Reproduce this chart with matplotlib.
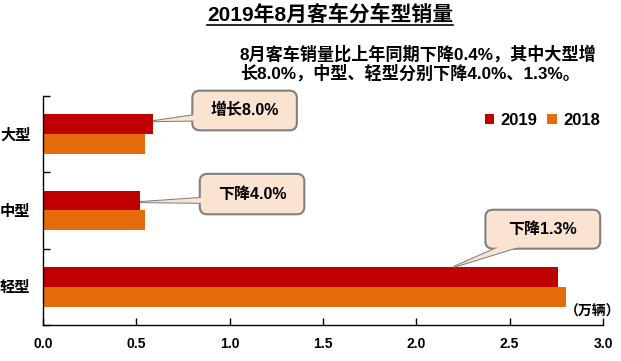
import matplotlib
matplotlib.use("Agg")
import matplotlib.pyplot as plt
from matplotlib.patches import FancyBboxPatch, Polygon
from matplotlib.lines import Line2D

plt.rcParams['font.family'] = ['Liberation Sans', 'Noto Sans CJK SC', 'DejaVu Sans']
plt.rcParams['font.weight'] = 'bold'

# Datos (万辆)
categories = ['大型', '中型', '轻型']
sales_2019 = [0.59, 0.52, 2.76]
sales_2018 = [0.545, 0.545, 2.80]
series_names = ['2019', '2018']
callout_texts = ['增长8.0%', '下降4.0%', '下降1.3%']
x_ticks = [0.0, 0.5, 1.0, 1.5, 2.0, 2.5, 3.0]

RED = '#C00000'
ORANGE = '#E46C0A'
BOX_FC = '#FBE3D2'
BOX_EC = '#808080'

fig = plt.figure(figsize=(6.21, 3.61), dpi=100)
ax = fig.add_axes([43 / 621, 36 / 361, 560 / 621, 229 / 361])

pos = list(range(len(categories)))
h = 0.26
b19 = ax.barh([p - h / 2 for p in pos], sales_2019, height=h, color=RED, label=series_names[0], zorder=2)
b18 = ax.barh([p + h / 2 for p in pos], sales_2018, height=h, color=ORANGE, label=series_names[1], zorder=2)

ax.set_xlim(0, 3.0)
ax.set_ylim(2.5, -0.5)
ax.set_xticks(x_ticks)
ax.set_xticklabels([f'{t:.1f}' for t in x_ticks], fontsize=10, fontweight='bold')
ax.set_yticks(pos)
ax.set_yticklabels(categories, fontsize=11, fontweight='bold')
ax.set_yticks([-0.5, 0.5, 1.5, 2.5], minor=True)
ax.tick_params(axis='y', which='major', length=0, pad=9)
ax.tick_params(axis='y', which='minor', length=5, direction='in', width=1)
ax.tick_params(axis='x', which='major', length=5, direction='in', width=1, pad=9)
for s in ['top', 'right']:
    ax.spines[s].set_visible(False)
for s in ['left', 'bottom']:
    ax.spines[s].set_linewidth(1.0)

# Leyenda
ax.legend(handles=[b19, b18], loc='center right', bbox_to_anchor=(0.995, 0.892),
          ncol=2, frameon=False, prop={'size': 12, 'weight': 'bold'},
          handlelength=0.55, handleheight=0.55,
          handletextpad=0.4, columnspacing=0.6, borderaxespad=0, borderpad=0)

# Globos de texto (cajas y punteros)
aspect = (3.0 / 229) / (3.0 / 560)
boxes = [(0.80, -0.57, 1.36, -0.05), (0.84, 0.52, 1.40, 1.05), (2.37, 0.99, 2.985, 1.50)]
tips = [(sales_2019[0], -h / 2 - 0.04), (sales_2019[1], 1 - h / 2 + 0.02), (2.2, 2 - h)]
bases = [[(0.84, -0.26), (0.84, -0.18)],
         [(0.88, 0.83), (0.88, 0.90)],
         [(2.46, 1.46), (2.57, 1.46)]]
for (x0, y0, x1, y1), tip, base, txt in zip(boxes, tips, bases, callout_texts):
    wedge = Polygon([tip] + base, closed=True, fc=BOX_FC, ec=BOX_EC, lw=1.5,
                    zorder=4, clip_on=False)
    ax.add_patch(wedge)
    box = FancyBboxPatch((x0, y0), x1 - x0, y1 - y0,
                         boxstyle='round,pad=0,rounding_size=0.04',
                         mutation_aspect=aspect, fc=BOX_FC, ec=BOX_EC, lw=1.5,
                         zorder=5, clip_on=False)
    ax.add_patch(box)
    cover = Polygon([tip] + base, closed=True, fc=BOX_FC, ec='none',
                    zorder=6, clip_on=False)
    ax.add_patch(cover)
    ax.text((x0 + x1) / 2, (y0 + y1) / 2, txt, ha='center', va='center',
            fontsize=11.5, fontweight='bold', zorder=7)

fig.text(593 / 621, 1 - 312 / 361, '（万辆）', ha='center', va='center',
         fontsize=10, fontweight='bold')

# Titulo subrayado y nota
title = fig.text(330 / 621, 1 - 15 / 361, '2019年8月客车分车型销量', ha='center',
                 va='center', fontsize=15, fontweight='bold')
fig.text(240 / 621, 1 - 54 / 361, '8月客车销量比上年同期下降0.4%，其中大型增',
         ha='left', va='center', fontsize=12.3, fontweight='bold')
fig.text(240 / 621, 1 - 73 / 361, '长8.0%，中型、轻型分别下降4.0%、1.3%。',
         ha='left', va='center', fontsize=12.3, fontweight='bold')

fig.canvas.draw()
bb = title.get_window_extent().transformed(fig.transFigure.inverted())
fig.add_artist(Line2D([bb.x0, bb.x1], [1 - 25 / 361, 1 - 25 / 361],
                      transform=fig.transFigure, color='black', lw=1.2))

fig.savefig('out.png', dpi=100)
